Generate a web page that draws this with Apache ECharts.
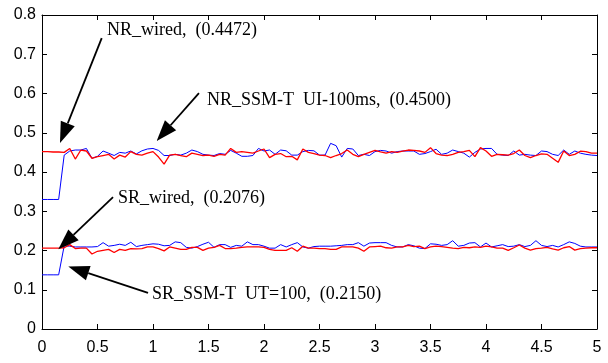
<!DOCTYPE html>
<html>
<head>
<meta charset="utf-8">
<script src="https://cdn.jsdelivr.net/npm/echarts@6/dist/echarts.min.js"></script>
<style>html,body{margin:0;padding:0;background:#fff}#c{width:608px;height:363px}</style>
</head>
<body>
<div id="c"></div>
<script>
// Time axis (s)
var xValues = [0,0.05,0.1,0.15,0.2,0.25,0.3,0.35,0.4,0.45,0.5,0.55,0.6,0.65,0.7,0.75,0.8,0.85,0.9,0.95,
1,1.05,1.1,1.15,1.2,1.25,1.3,1.35,1.4,1.45,1.5,1.55,1.6,1.65,1.7,1.75,1.8,1.85,1.9,1.95,
2,2.05,2.1,2.15,2.2,2.25,2.3,2.35,2.4,2.45,2.5,2.55,2.6,2.65,2.7,2.75,2.8,2.85,2.9,2.95,
3,3.05,3.1,3.15,3.2,3.25,3.3,3.35,3.4,3.45,3.5,3.55,3.6,3.65,3.7,3.75,3.8,3.85,3.9,3.95,
4,4.05,4.1,4.15,4.2,4.25,4.3,4.35,4.4,4.45,4.5,4.55,4.6,4.65,4.7,4.75,4.8,4.85,4.9,4.95,5];

var nrWired = [0.452,0.452,0.451,0.451,0.450,0.460,0.433,0.456,0.4535,0.435,0.439,0.442,0.445,0.433,0.443,0.438,0.452,0.445,0.443,0.448,
0.452,0.438,0.420,0.443,0.445,0.442,0.439,0.448,0.445,0.442,0.443,0.440,0.445,0.443,0.460,0.450,0.452,0.450,0.448,0.4535,
0.4586,0.4365,0.445,0.447,0.439,0.440,0.431,0.4586,0.450,0.447,0.443,0.442,0.4365,0.442,0.447,0.456,0.445,0.439,0.445,0.450,
0.455,0.451,0.448,0.452,0.450,0.453,0.456,0.455,0.4535,0.450,0.462,0.447,0.443,0.442,0.445,0.450,0.452,0.455,0.439,0.462,
0.4535,0.440,0.445,0.444,0.443,0.447,0.456,0.442,0.4365,0.442,0.446,0.445,0.435,0.4246,0.4535,0.442,0.445,0.453,0.452,0.448,0.448];

var nrSsm = [0.330,0.330,0.330,0.330,0.443,0.4535,0.456,0.456,0.460,0.435,0.440,0.4535,0.448,0.442,0.450,0.448,0.4535,0.446,0.454,0.4586,
0.460,0.455,0.442,0.442,0.445,0.443,0.448,0.456,0.452,0.445,0.443,0.442,0.447,0.445,0.455,0.448,0.440,0.440,0.442,0.460,
0.4535,0.456,0.445,0.456,0.454,0.443,0.443,0.452,0.455,0.454,0.443,0.443,0.473,0.467,0.438,0.460,0.4586,0.442,0.445,0.442,
0.452,0.455,0.4535,0.448,0.452,0.4535,0.4535,0.4535,0.445,0.447,0.452,0.458,0.445,0.448,0.456,0.452,0.448,0.438,0.450,0.4586,
0.460,0.460,0.445,0.443,0.442,0.4535,0.443,0.445,0.443,0.442,0.4535,0.452,0.445,0.442,0.456,0.445,0.4535,0.448,0.445,0.443,0.442];

var srWired = [0.206,0.206,0.206,0.206,0.207,0.215,0.205,0.206,0.206,0.191,0.198,0.2005,0.203,0.195,0.203,0.2005,0.205,0.204,0.205,0.209,
0.209,0.205,0.199,0.209,0.206,0.203,0.203,0.208,0.208,0.2005,0.206,0.208,0.213,0.205,0.205,0.206,0.208,0.209,0.209,0.209,
0.208,0.203,0.2005,0.2005,0.2005,0.207,0.198,0.211,0.206,0.206,0.205,0.205,0.203,0.203,0.209,0.209,0.209,0.206,0.198,0.209,
0.210,0.211,0.207,0.206,0.209,0.209,0.213,0.210,0.211,0.205,0.209,0.211,0.210,0.208,0.206,0.205,0.208,0.207,0.209,0.208,
0.211,0.209,0.206,0.206,0.2005,0.207,0.214,0.206,0.201,0.205,0.206,0.208,0.204,0.201,0.207,0.210,0.201,0.205,0.206,0.207,0.207];

var srSsm = [0.138,0.138,0.138,0.138,0.212,0.211,0.209,0.209,0.209,0.209,0.210,0.220,0.211,0.213,0.216,0.213,0.221,0.210,0.213,0.215,
0.217,0.216,0.212,0.213,0.222,0.220,0.208,0.206,0.210,0.216,0.221,0.208,0.215,0.215,0.208,0.213,0.211,0.222,0.215,0.215,
0.211,0.206,0.206,0.215,0.209,0.215,0.220,0.209,0.206,0.210,0.211,0.211,0.211,0.212,0.213,0.215,0.215,0.220,0.211,0.219,
0.220,0.220,0.220,0.213,0.209,0.209,0.215,0.212,0.206,0.205,0.217,0.216,0.213,0.215,0.225,0.211,0.213,0.219,0.220,0.209,
0.219,0.209,0.212,0.215,0.210,0.211,0.215,0.210,0.213,0.225,0.213,0.210,0.213,0.209,0.215,0.222,0.218,0.211,0.209,0.209,0.209];

var xTicks = [0,0.5,1,1.5,2,2.5,3,3.5,4,4.5,5];
var yTicks = [0,0.1,0.2,0.3,0.4,0.5,0.6,0.7,0.8];

// Annotations: label text, label anchor [x,y], arrow start [x,y], arrow tip [x,y] (data units)
var annLabels = ['NR_wired,  (0.4472)', 'NR_SSM-T  UI-100ms,  (0.4500)', 'SR_wired,  (0.2076)', 'SR_SSM-T  UT=100,  (0.2150)'];
var annText = [[0.586,0.762],[1.486,0.583],[0.685,0.334],[0.991,0.089]];
var annFrom = [[0.538,0.741],[1.414,0.601],[0.640,0.336],[0.955,0.092]];
var annTo = [[0.162,0.474],[1.033,0.479],[0.147,0.203],[0.237,0.159]];

function pairs(ys){ return xValues.map(function(x,i){ return [x, ys[i]]; }); }

var chart = echarts.init(document.getElementById('c'));
var axisCommon = {
  axisLine:{show:true,onZero:false,lineStyle:{color:'#000',width:1}},
  axisTick:{show:true,inside:true,length:5,lineStyle:{color:'#000'}},
  splitLine:{show:false}
};
var labelFont = {color:'#000',fontFamily:'Liberation Sans',fontSize:16};
chart.setOption({
  animation:false,
  backgroundColor:'#fff',
  grid:{left:42,right:11,top:15,bottom:34,show:false},
  xAxis:[
    Object.assign({type:'value',min:0,max:5,interval:0.5,position:'bottom',
      axisLabel:Object.assign({margin:11,formatter:function(v){return String(v);}},labelFont)},axisCommon),
    Object.assign({type:'value',min:0,max:5,interval:0.5,position:'top',axisLabel:{show:false}},axisCommon)
  ],
  yAxis:[
    Object.assign({type:'value',min:0,max:0.8,interval:0.1,position:'left',
      axisLabel:Object.assign({margin:6,formatter:function(v){return String(Math.round(v*10)/10);}},labelFont)},axisCommon),
    Object.assign({type:'value',min:0,max:0.8,interval:0.1,position:'right',axisLabel:{show:false}},axisCommon)
  ],
  series:[
    {type:'line',name:'NR_SSM-T',data:pairs(nrSsm),showSymbol:false,symbol:'none',lineStyle:{color:'#0000ff',width:1},z:2},
    {type:'line',name:'SR_SSM-T',data:pairs(srSsm),showSymbol:false,symbol:'none',lineStyle:{color:'#0000ff',width:1},z:2},
    {type:'line',name:'NR_wired',data:pairs(nrWired),showSymbol:false,symbol:'none',lineStyle:{color:'#ff0000',width:1.3},z:3},
    {type:'line',name:'SR_wired',data:pairs(srWired),showSymbol:false,symbol:'none',lineStyle:{color:'#ff0000',width:1.3},z:3}
  ]
});

var g = [];
for (var k=0;k<annLabels.length;k++){
  var p0 = chart.convertToPixel({gridIndex:0}, annFrom[k]);
  var p1 = chart.convertToPixel({gridIndex:0}, annTo[k]);
  var pt = chart.convertToPixel({gridIndex:0}, annText[k]);
  var dx = p1[0]-p0[0], dy = p1[1]-p0[1];
  var L = Math.sqrt(dx*dx+dy*dy), ux = dx/L, uy = dy/L;
  var hl = 21, hw = 7.5;
  var bx = p1[0]-ux*hl, by = p1[1]-uy*hl;
  g.push({type:'line',shape:{x1:p0[0],y1:p0[1],x2:bx,y2:by},style:{stroke:'#000',lineWidth:1.8},z:10});
  g.push({type:'polygon',shape:{points:[[p1[0],p1[1]],[bx-uy*hw,by+ux*hw],[bx+uy*hw,by-ux*hw]]},style:{fill:'#000'},z:10});
  g.push({type:'text',x:pt[0],y:pt[1],style:{text:annLabels[k],fill:'#000',font:'18px "Liberation Serif"',textAlign:'left',textVerticalAlign:'middle'},z:10});
}
chart.setOption({graphic:g});
</script>
</body>
</html>
